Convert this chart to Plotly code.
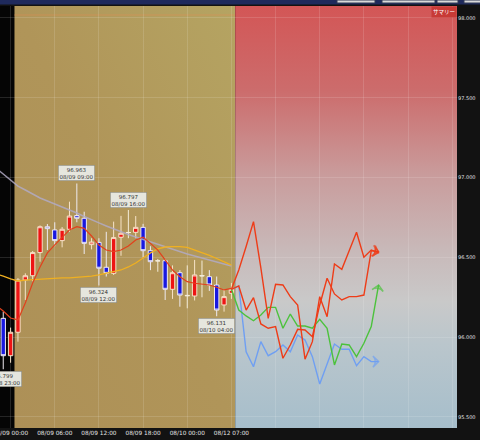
import base64
import plotly.graph_objects as go

# ---------------- data ----------------
# candle index: -1 = 08/08 23:00, 0 = 08/09 00:00 ... 29 = 08/10 05:00, 30 = 08/12 07:00
candle_idx = list(range(-1, 31))
opens = [96.118, 95.884, 96.031, 96.358, 96.385, 96.530, 96.692, 96.672, 96.605, 96.676,
         96.762, 96.745, 96.580, 96.594, 96.438, 96.400, 96.626, 96.655, 96.657, 96.688,
         96.542, 96.479, 96.479, 96.300, 96.404, 96.262, 96.258, 96.386, 96.379, 96.327,
         96.202, 96.275]
highs = [96.160, 96.060, 96.370, 96.400, 96.540, 96.700, 96.709, 96.720, 96.690, 96.849,
         96.963, 96.786, 96.620, 96.620, 96.660, 96.724, 96.760, 96.797, 96.759, 96.710,
         96.570, 96.490, 96.490, 96.450, 96.420, 96.450, 96.484, 96.480, 96.420, 96.380,
         96.300, 96.340]
lows = [95.799, 95.840, 95.972, 96.233, 96.350, 96.473, 96.546, 96.570, 96.563, 96.660,
        96.720, 96.521, 96.550, 96.324, 96.380, 96.390, 96.510, 96.620, 96.620, 96.500,
        96.420, 96.410, 96.233, 96.240, 96.191, 96.181, 96.230, 96.250, 96.290, 96.131,
        96.160, 96.240]
closes = [95.884, 96.031, 96.358, 96.385, 96.530, 96.692, 96.680, 96.605, 96.676, 96.759,
          96.745, 96.588, 96.596, 96.432, 96.400, 96.624, 96.651, 96.656, 96.688, 96.542,
          96.473, 96.478, 96.300, 96.404, 96.264, 96.260, 96.390, 96.384, 96.327, 96.170,
          96.254, 96.300]
doji_idx = [16, 20, 24, 26]

ma_idx = list(range(-2, 31))
ma_short = [96.200, 96.164, 96.120, 96.108, 96.214, 96.340, 96.440, 96.528, 96.578, 96.628,
            96.672, 96.692, 96.682, 96.634, 96.578, 96.546, 96.536, 96.546, 96.571, 96.609,
            96.626, 96.588, 96.546, 96.484, 96.421, 96.379, 96.348, 96.338, 96.333, 96.327,
            96.313, 96.296, 96.306]
ma_mid = [96.396, 96.383, 96.365, 96.352, 96.358, 96.361, 96.365, 96.368, 96.368, 96.371,
          96.371, 96.374, 96.377, 96.383, 96.390, 96.399, 96.409, 96.421, 96.440, 96.465,
          96.496, 96.528, 96.553, 96.565, 96.568, 96.568, 96.562, 96.546, 96.531, 96.512,
          96.493, 96.471, 96.452]
ma_long = [97.060, 97.023, 96.985, 96.947, 96.922, 96.897, 96.872, 96.853, 96.835, 96.816,
           96.797, 96.778, 96.756, 96.734, 96.716, 96.697, 96.678, 96.659, 96.643, 96.628,
           96.612, 96.596, 96.581, 96.565, 96.549, 96.534, 96.521, 96.509, 96.496, 96.484,
           96.471, 96.459, 96.446]

fc_idx = list(range(30, 51))
fc_red1 = [96.300, 96.421, 96.568, 96.724, 96.434, 96.118, 96.331, 96.327, 96.254, 96.202,
           95.862, 95.972, 96.254, 96.128, 96.459, 96.425, 96.541, 96.657, 96.501, 96.546, 96.529]
fc_red2 = [96.300, 96.321, 96.170, 96.248, 96.083, 96.056, 96.066, 95.868, 95.951, 96.049,
           96.045, 96.003, 96.202, 96.369, 96.271, 96.233, 96.254, 96.254, 96.264, 96.542, 96.536]
fc_green = [96.300, 96.170, 96.133, 96.103, 96.139, 96.187, 96.187, 96.056, 96.145, 96.070,
            96.070, 96.056, 96.112, 96.056, 95.826, 95.957, 95.951, 95.878, 95.962, 96.066, 96.327]
fc_blue = [96.300, 96.321, 95.909, 95.815, 95.972, 95.884, 95.909, 95.951, 95.909, 96.014,
           95.982, 95.878, 95.707, 95.836, 95.957, 95.924, 95.924, 95.821, 95.878, 95.847, 95.847]

x_tickvals = list(range(0, 61, 6))
x_ticktext = ["08/09 00:00", "08/09 06:00", "08/09 12:00", "08/09 18:00",
              "08/10 00:00", "08/12 07:00", "", "", "", "", ""]
y_tickvals = [95.5, 96.0, 96.5, 97.0, 97.5, 98.0]
y_ticktext = ["95.500", "96.000", "96.500", "97.000", "97.500", "98.000"]

label_idx = [-1, 9, 12, 16, 28]
label_kind = ["low", "high", "low", "high", "low"]
label_time = ["08/08 23:00", "08/09 09:00", "08/09 12:00", "08/09 16:00", "08/10 04:00"]

# ---------------- figure ----------------
W, H = 480, 440
ML, MR, MT, MB = 0, 23, 6, 12
PW, PH = W - ML - MR, H - MT - MB
XR = [-1.44, 60.65]
YR = [95.431, 98.075]
TAN0, TAN1 = 0.5, 30.5

fig = go.Figure()

# regular candles (red = up, blue = down)
reg = [k for k, i in enumerate(candle_idx) if i not in doji_idx]
fig.add_trace(go.Candlestick(
    x=[candle_idx[k] for k in reg],
    open=[opens[k] for k in reg], high=[highs[k] for k in reg],
    low=[lows[k] for k in reg], close=[closes[k] for k in reg],
    increasing=dict(fillcolor="#ee1414", line=dict(color="#f6e3c8", width=1)),
    decreasing=dict(fillcolor="#1818e0", line=dict(color="#eeeaf0", width=1)),
    whiskerwidth=0, showlegend=False, hoverinfo="skip"))
dj = [k for k, i in enumerate(candle_idx) if i in doji_idx]
fig.add_trace(go.Candlestick(
    x=[candle_idx[k] for k in dj],
    open=[opens[k] for k in dj], high=[highs[k] for k in dj],
    low=[lows[k] for k in dj], close=[closes[k] for k in dj],
    increasing=dict(fillcolor="#ffffff", line=dict(color="#f4ecd8", width=1)),
    decreasing=dict(fillcolor="#ffffff", line=dict(color="#f4ecd8", width=1)),
    whiskerwidth=0, showlegend=False, hoverinfo="skip"))

# moving averages
fig.add_trace(go.Scatter(x=ma_idx, y=ma_long, mode="lines",
                         line=dict(color="rgba(178,170,196,0.85)", width=1.5),
                         showlegend=False, hoverinfo="skip"))
fig.add_trace(go.Scatter(x=ma_idx, y=ma_mid, mode="lines",
                         line=dict(color="#f0b020", width=1.3),
                         showlegend=False, hoverinfo="skip"))
fig.add_trace(go.Scatter(x=ma_idx, y=ma_short, mode="lines",
                         line=dict(color="#e2401c", width=1.2),
                         showlegend=False, hoverinfo="skip"))

# forecast paths with arrow heads
for ys, col in [(fc_blue, "#6f9ff2"), (fc_green, "#4cc23c"),
                (fc_red2, "#ee3c18"), (fc_red1, "#ee3c18")]:
    sizes = [0] * (len(ys) - 1) + [8]
    fig.add_trace(go.Scatter(
        x=fc_idx, y=ys, mode="lines+markers",
        line=dict(color=col, width=1.4),
        marker=dict(size=sizes, symbol="arrow-wide-open", angleref="previous",
                    color=col, line=dict(color=col, width=1.5)),
        showlegend=False, hoverinfo="skip"))

# gradient backgrounds as svg images
def svg_uri(stops, x1, y1, x2, y2):
    st = "".join(f'<stop offset="{o}" stop-color="{c}"/>' for o, c in stops)
    s = ('<svg xmlns="http://www.w3.org/2000/svg" width="100" height="100" '
         'viewBox="0 0 100 100" preserveAspectRatio="none">'
         f'<defs><linearGradient id="g" x1="{x1}" y1="{y1}" x2="{x2}" y2="{y2}">{st}'
         '</linearGradient></defs><rect x="0" y="0" width="100" height="100" fill="url(#g)"/></svg>')
    return "data:image/svg+xml;base64," + base64.b64encode(s.encode()).decode()

fc_bg = svg_uri([(0, "#d35656"), (0.2, "#cc6c6c"), (0.4, "#c99c9c"), (0.58, "#c8b9b9"),
                 (0.7, "#c9c9c9"), (0.8, "#bac6cc"), (1, "#a6becb")], 0, 0, 0, 1)
tan_bg = svg_uri([(0, "#b5a462"), (0.5, "#b09559"), (1, "#ad9057")], 1, 0, 0, 1)

images = [
    dict(source=tan_bg, xref="x", yref="paper", x=TAN0, y=1, sizex=TAN1 - TAN0, sizey=1,
         sizing="stretch", xanchor="left", yanchor="top", layer="below"),
    dict(source=fc_bg, xref="x", yref="paper", x=TAN1, y=1, sizex=XR[1] - TAN1 + 1, sizey=1,
         sizing="stretch", xanchor="left", yanchor="top", layer="below"),
]

shapes = [
    # navy top bar
    dict(type="rect", xref="paper", yref="paper", x0=-0.01, x1=W / PW + 0.01,
         y0=1 + 1.5 / PH, y1=1 + MT / PH, fillcolor="#1f2a5c", line=dict(width=0), layer="above"),
    # faint orange line at top of tan area
    dict(type="line", xref="x", yref="paper", x0=TAN0, x1=TAN1, y0=1 - 9 / PH, y1=1 - 9 / PH,
         line=dict(color="rgba(232,140,80,0.45)", width=1), layer="below"),
]
for bx0, bx1 in [(337, 375), (382, 435), (437, 458), (464, 481)]:
    shapes.append(dict(type="rect", xref="paper", yref="paper", x0=bx0 / PW, x1=bx1 / PW,
                       y0=1 + 3 / PH, y1=1 + MT / PH, fillcolor="#dadada",
                       line=dict(color="#333a55", width=1), layer="above"))

annotations = []
lab_font = dict(family="DejaVu Sans", size=5.5, color="#333333")
for i, kind, t in zip(label_idx, label_kind, label_time):
    k = candle_idx.index(i)
    price = highs[k] if kind == "high" else lows[k]
    annotations.append(dict(
        x=i, y=price, xref="x", yref="y", text=f"{price:.3f}<br>{t}", showarrow=False,
        yanchor="bottom" if kind == "high" else "top", yshift=2 if kind == "high" else -2,
        font=lab_font, bgcolor="#e6e6de", bordercolor="#8c8c84", borderwidth=0.6, borderpad=1,
        align="center"))
annotations.append(dict(
    x=444 / PW, y=1 - 6.5 / PH, xref="paper", yref="paper", text="サマリー", showarrow=False,
    font=dict(family="Noto Sans CJK JP", size=5.5, color="#ffffff"), bgcolor="#c83a36",
    borderpad=1, xanchor="center", yanchor="middle"))

fig.update_layout(
    width=W, height=H, margin=dict(l=ML, r=MR, t=MT, b=MB, pad=0, autoexpand=False),
    paper_bgcolor="#121212", plot_bgcolor="#050505",
    showlegend=False, boxgap=0.15,
    images=images, shapes=shapes, annotations=annotations,
    xaxis=dict(range=XR, tickvals=x_tickvals, ticktext=x_ticktext, showgrid=True,
               gridcolor="rgba(255,255,255,0.13)", gridwidth=1, zeroline=False,
               showline=False, ticks="", rangeslider=dict(visible=False),
               ticklabeloverflow="allow", automargin=False,
               tickfont=dict(family="DejaVu Sans", size=5.8, color="#e4e4e4"), fixedrange=True),
    yaxis=dict(range=YR, side="right", tickvals=y_tickvals, ticktext=y_ticktext,
               showgrid=True, gridcolor="rgba(255,255,255,0.13)", gridwidth=1,
               zeroline=False, showline=False, ticks="", ticklabeloverflow="allow",
               automargin=False,
               tickfont=dict(family="DejaVu Sans", size=5.0, color="#e4e4e4"), fixedrange=True),
)

fig.write_html("out.html", config={"displayModeBar": False},
               post_script="document.body.style.margin='0px';document.body.style.overflow='hidden';")
